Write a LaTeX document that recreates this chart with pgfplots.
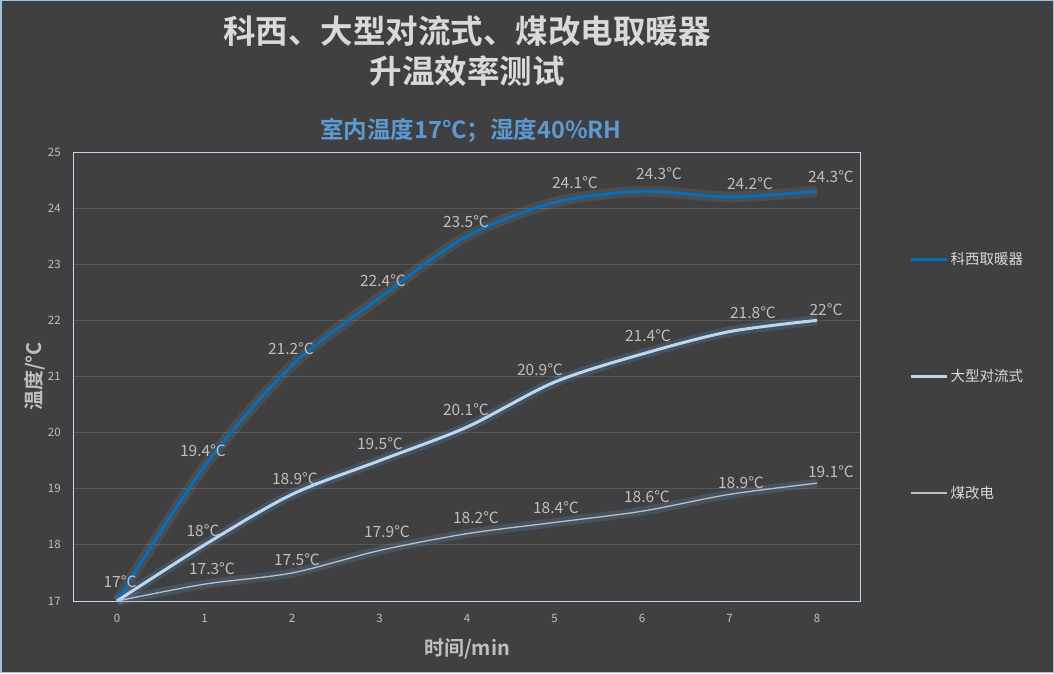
\documentclass[border=0pt]{standalone}
\usepackage{pgfplots}
\pgfplotsset{compat=1.18}
\usepackage{pgfplotstable}
\usepackage{fontspec}
\setmainfont{Noto Sans CJK SC}[BoldFont={Noto Sans CJK SC Bold}]
\definecolor{bg}{HTML}{404040}
\definecolor{frame}{HTML}{9DC3E6}
\definecolor{pframe}{HTML}{BDD7EE}
\definecolor{gridc}{HTML}{585858}
\definecolor{txt}{HTML}{BFBFBF}
\definecolor{ttl}{HTML}{D9D9D9}
\definecolor{kx}{HTML}{0070C0}
\definecolor{dx}{HTML}{BDD7EE}
\definecolor{mg}{HTML}{BFBFBF}
\definecolor{sub}{HTML}{5B9BD5}
% value, label offset x, label offset y (pt)
\pgfplotstableread{
x k kdx kdy
0 17 3 19
1 19.4 -1.5 16
2 21.2 -1 17
3 22.4 3.5 17
4 23.5 -1 15
5 24.1 20.5 19.5
6 24.3 17 18
7 24.2 20.5 13
8 24.3 14 15
}\kdata
\pgfplotstableread{
x d ddx ddy
0 17 0 0
1 18 -1.5 14
2 18.9 3 16
3 19.5 0.5 17
4 20.1 -1 17
5 20.9 -14.5 12
6 21.4 6 18
7 21.8 23.5 19
8 22 9 11
}\ddata
\pgfplotstableread{
x m mdx mdy
0 17 0 0
1 17.3 7.5 15
2 17.5 5 13
3 17.9 7.5 18.5
4 18.2 9 16
5 18.4 1.5 15
6 18.6 5 15
7 18.9 11.5 12
8 19.1 14 11
}\mdata
\begin{document}
\begin{tikzpicture}[x=1pt,y=1pt]
\fill[bg] (0,0) rectangle (1054,673);
\draw[frame,line width=1.5pt] (0.75,0.75) rectangle (1053.25,672.25);
\node[font=\bfseries\fontsize{32.5}{36}\selectfont,text=ttl] at (467,642) {科西、大型对流式、煤改电取暖器};
\node[font=\bfseries\fontsize{32.5}{36}\selectfont,text=ttl] at (467,602) {升温效率测试};
\node[font=\bfseries\fontsize{23.5}{26}\selectfont,text=sub] at (471,543) {室内温度17°C；湿度40\%RH};
\begin{axis}[
  at={(73.25pt,72pt)}, anchor=south west,
  scale only axis, width=787.5pt, height=449pt,
  xmin=-0.5, xmax=8.5, ymin=17, ymax=25,
  xtick={0,...,8}, ytick={17,...,25},
  axis line style={pframe,line width=0.8pt},
  grid=major, xmajorgrids=false, major grid style={gridc,line width=0.8pt},
  tick style={draw=none},
  ticklabel style={font=\fontsize{11.5}{13}\selectfont,text=txt},
  /pgf/number format/assume math mode=true,
  yticklabel style={xshift=-9pt},
  xticklabel style={yshift=-10pt},
  xlabel={\bfseries 时间/min}, ylabel={\bfseries 温度/°C},
  label style={font=\fontsize{20}{23}\selectfont,text=txt},
  xlabel style={yshift=-9pt},
  ylabel style={yshift=-4pt},
  legend style={at={(1.058,0.785)},anchor=north west,draw=none,fill=none,
    font=\fontsize{14.5}{16}\selectfont,text=ttl,row sep=99pt},
  legend cell align=left,
  legend image code/.code={\draw[#1] (0pt,0pt) -- (36pt,0pt);},
  clip=false,
  lbl/.style={draw=none,forget plot,nodes near coords={\pgfmathprintnumber{\pgfplotspointmeta}°C},
    nodes near coords style={font=\fontsize{15.5}{17}\selectfont,text=txt,anchor=center,xshift=\ldx pt,yshift=\ldy pt}},
]
% glows
\addplot[smooth,tension=0.5,white,line width=11pt,opacity=0.07,forget plot] table[x=x,y=k]{\kdata};
\addplot[smooth,tension=0.5,sub,line width=10pt,opacity=0.22,forget plot] table[x=x,y=d]{\ddata};
\addplot[smooth,tension=0.5,sub,line width=9pt,opacity=0.22,forget plot] table[x=x,y=m]{\mdata};
% lines
\addplot[smooth,tension=0.5,kx,line width=3pt] table[x=x,y=k]{\kdata};
\addlegendentry{科西取暖器}
\addplot[smooth,tension=0.5,dx,line width=3pt] table[x=x,y=d]{\ddata};
\addlegendentry{大型对流式}
\addplot[smooth,tension=0.5,mg,line width=1.3pt] table[x=x,y=m]{\mdata};
\addlegendentry{煤改电}
% labels
\addplot[lbl,visualization depends on={\thisrow{kdx}\as\ldx},visualization depends on={\thisrow{kdy}\as\ldy}]
  table[x=x,y=k,meta=k]{\kdata};
\addplot[lbl,skip coords between index={0}{1},visualization depends on={\thisrow{ddx}\as\ldx},visualization depends on={\thisrow{ddy}\as\ldy}]
  table[x=x,y=d,meta=d]{\ddata};
\addplot[lbl,skip coords between index={0}{1},visualization depends on={\thisrow{mdx}\as\ldx},visualization depends on={\thisrow{mdy}\as\ldy}]
  table[x=x,y=m,meta=m]{\mdata};
\end{axis}
\end{tikzpicture}
\end{document}
